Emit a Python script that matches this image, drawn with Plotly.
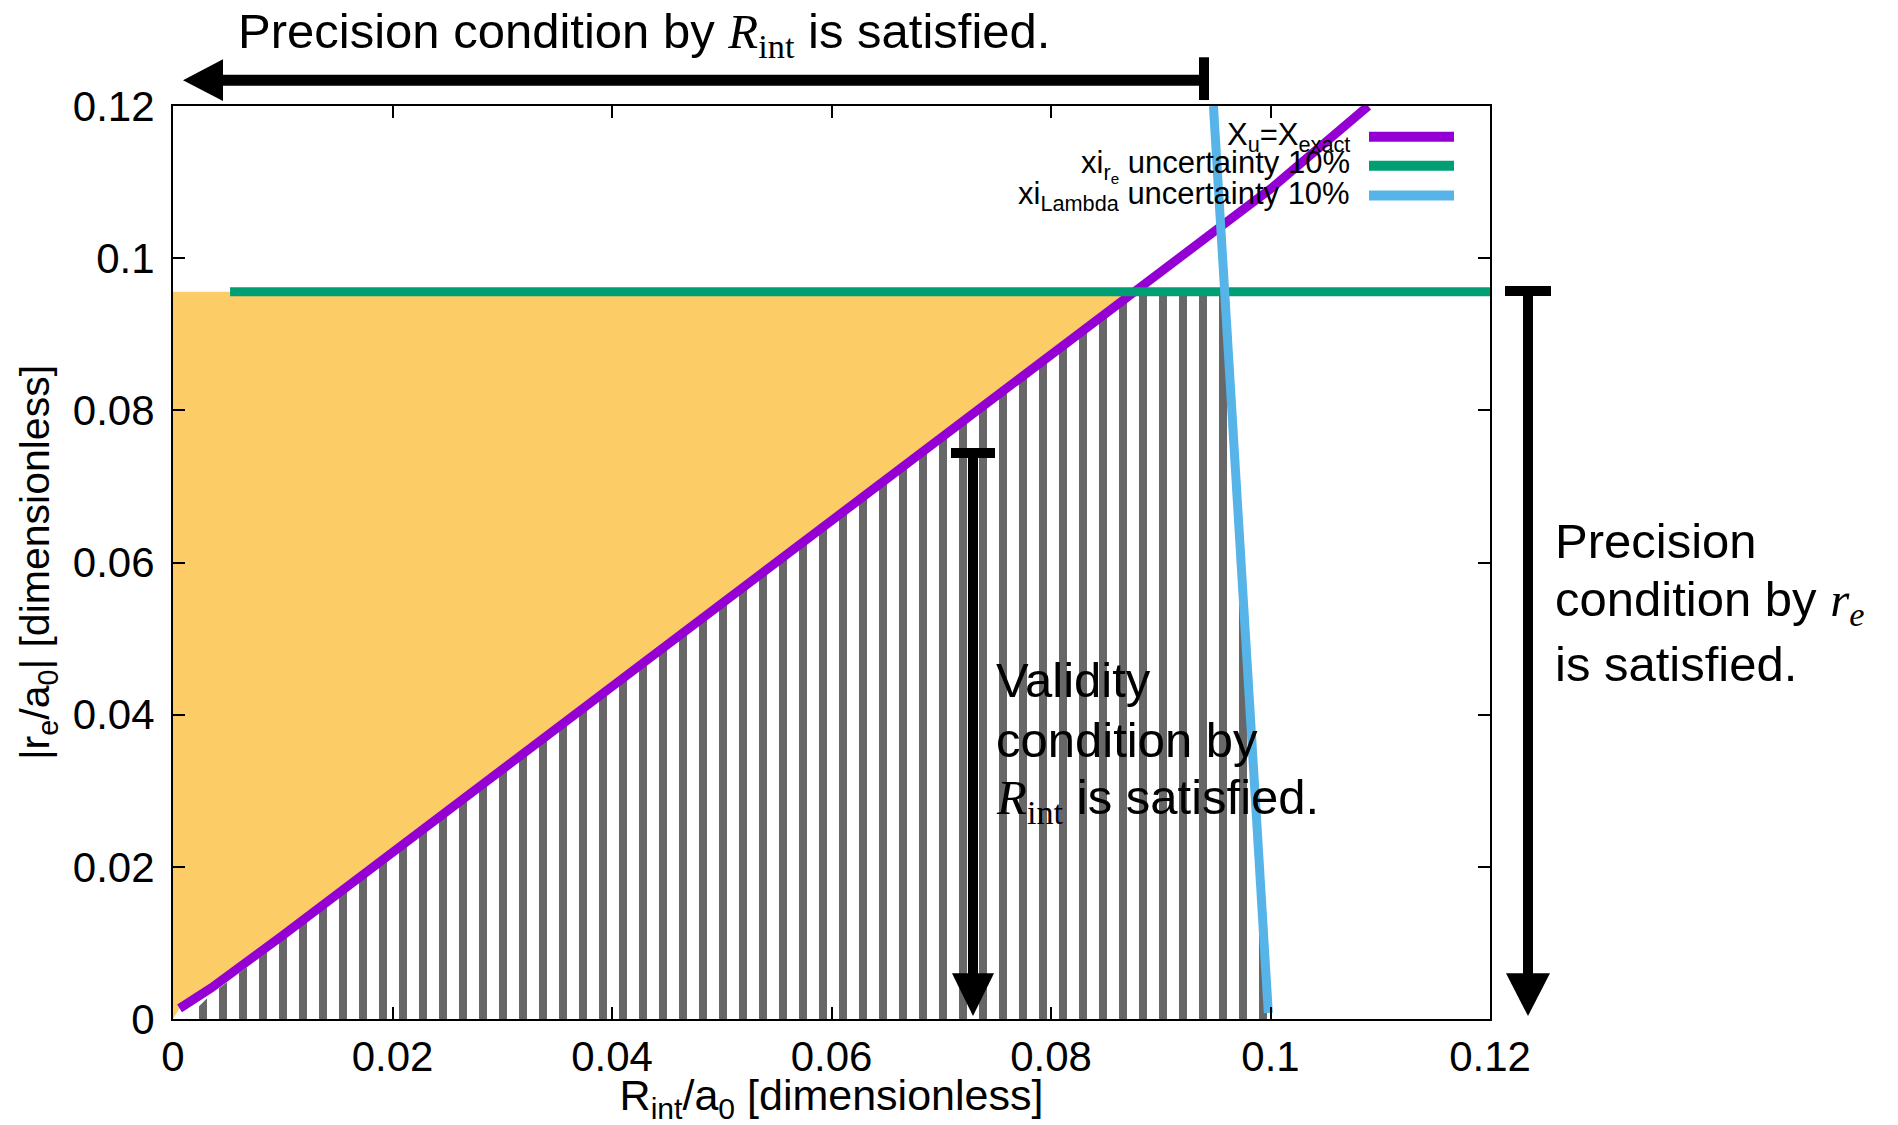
import plotly.graph_objects as go

# ---------------- data ----------------
x_range = [0, 0.12]
y_range = [0, 0.12]
tick_vals = [0, 0.02, 0.04, 0.06, 0.08, 0.1, 0.12]
tick_text = ["0", "0.02", "0.04", "0.06", "0.08", "0.1", "0.12"]

# X_u = X_exact curve
exact_x = [0.0006, 0.0035, 0.01, 0.02, 0.03, 0.04, 0.05, 0.06, 0.07, 0.08, 0.0876, 0.09, 0.1, 0.1089]
exact_y = [0.0014, 0.0041, 0.0110, 0.0219, 0.0328, 0.0437, 0.0546, 0.0655, 0.0764, 0.0873, 0.0956, 0.0982, 0.1091, 0.1200]

# xi_re uncertainty 10 %
re_x = [0.0052, 0.12]
re_y = [0.0956, 0.0956]

# xi_Lambda uncertainty 10 %
lam_x = [0.0948, 0.0998]
lam_y = [0.12, 0.0008]

# orange region (precision by R_int satisfied, validity not)
orange_x = [0, 0, 0.0876, 0.08, 0.06, 0.04, 0.02, 0.01, 0.0035, 0.0006, 0]
orange_y = [0, 0.0956, 0.0956, 0.0873, 0.0655, 0.0437, 0.0219, 0.0110, 0.0041, 0.0014, 0]

# hatched region (all conditions satisfied)
hatch_x = [0.0012, 0.0035, 0.01, 0.02, 0.04, 0.06, 0.08, 0.0876, 0.0958, 0.0998, 0.0012]
hatch_y = [0, 0.0033, 0.0104, 0.0213, 0.0431, 0.0649, 0.0867, 0.0956, 0.0956, 0, 0]

legend_names = ["X<sub>u</sub>=X<sub>exact</sub>",
                "xi<sub>r<sub>e</sub></sub> uncertainty 10%",
                "xi<sub>Lambda</sub> uncertainty 10%"]

PURPLE = "#9400D3"
GREEN = "#009E73"
BLUE = "#56B4E9"
ORANGE = "#FCCC66"
GRAY = "#676767"
SANS = "Liberation Sans, Arial, Helvetica, sans-serif"
SERIF = "Liberation Serif"

# ---------------- layout geometry (pixels) ----------------
W, H = 1898, 1125
L, R, T, B = 173, 1490, 106, 1024


def px(xp):
    return (xp - L) / (R - L)


def py(yp):
    return (B - yp) / (B - T)


fig = go.Figure()

fig.add_trace(go.Scatter(x=orange_x, y=orange_y, mode="none", fill="toself",
                         fillcolor=ORANGE, showlegend=False, hoverinfo="skip"))
fig.add_trace(go.Scatter(x=hatch_x, y=hatch_y, mode="none", fill="toself",
                         fillcolor="white",
                         fillpattern=dict(shape="|", size=20, solidity=0.4,
                                          fgcolor=GRAY, bgcolor="white", fgopacity=1,
                                          fillmode="replace"),
                         showlegend=False, hoverinfo="skip"))
fig.add_trace(go.Scatter(x=exact_x, y=exact_y, mode="lines",
                         line=dict(color=PURPLE, width=9), showlegend=False))
fig.add_trace(go.Scatter(x=re_x, y=re_y, mode="lines",
                         line=dict(color=GREEN, width=9), showlegend=False))
fig.add_trace(go.Scatter(x=lam_x, y=lam_y, mode="lines",
                         line=dict(color=BLUE, width=9), showlegend=False))

shapes = []
annotations = []

# manual legend (text right, sample line left of it)
leg_rows = [137, 166, 196]
for name, col, yr in zip(legend_names, [PURPLE, GREEN, BLUE], leg_rows):
    annotations.append(dict(x=px(1352), y=py(yr), xref="paper", yref="paper",
                            text=name, showarrow=False, xanchor="right", yanchor="middle",
                            font=dict(family=SANS, size=31, color="black")))
    shapes.append(dict(type="line", xref="paper", yref="paper",
                       x0=px(1369), x1=px(1454), y0=py(yr), y1=py(yr),
                       line=dict(color=col, width=10)))

# top arrow
shapes.append(dict(type="line", xref="paper", yref="paper",
                   x0=px(1204), x1=px(218), y0=py(80), y1=py(80),
                   line=dict(color="black", width=11)))
shapes.append(dict(type="line", xref="paper", yref="paper",
                   x0=px(1204), x1=px(1204), y0=py(57), y1=py(100),
                   line=dict(color="black", width=10)))
shapes.append(dict(type="path", xref="paper", yref="paper",
                   path=f"M {px(183)} {py(80)} L {px(223)} {py(59)} L {px(223)} {py(101)} Z",
                   fillcolor="black", line=dict(width=0)))

# right vertical arrow
xr = 1528
shapes.append(dict(type="line", xref="paper", yref="paper",
                   x0=px(xr), x1=px(xr), y0=py(292), y1=py(985),
                   line=dict(color="black", width=10)))
shapes.append(dict(type="line", xref="paper", yref="paper",
                   x0=px(xr - 23), x1=px(xr + 23), y0=py(292), y1=py(292),
                   line=dict(color="black", width=10)))
shapes.append(dict(type="path", xref="paper", yref="paper",
                   path=f"M {px(xr)} {py(1021)} L {px(xr - 22)} {py(978)} L {px(xr + 22)} {py(978)} Z",
                   fillcolor="black", line=dict(width=0)))

# middle vertical arrow
xm = 973
shapes.append(dict(type="line", xref="paper", yref="paper",
                   x0=px(xm), x1=px(xm), y0=py(455), y1=py(985),
                   line=dict(color="black", width=10)))
shapes.append(dict(type="line", xref="paper", yref="paper",
                   x0=px(xm - 22), x1=px(xm + 22), y0=py(455), y1=py(455),
                   line=dict(color="black", width=10)))
shapes.append(dict(type="path", xref="paper", yref="paper",
                   path=f"M {px(xm)} {py(1021)} L {px(xm - 21)} {py(978)} L {px(xm + 21)} {py(978)} Z",
                   fillcolor="black", line=dict(width=0)))

R_INT = (f"<span style='font-family:{SERIF}'><i>R</i><sub>int</sub></span>")
R_E = (f"<span style='font-family:{SERIF}'><i>r<sub>e</sub></i></span>")

# top text
annotations.append(dict(x=px(236), y=py(34), xref="paper", yref="paper",
                        text=f"Precision condition by {R_INT} is satisfied.",
                        showarrow=False, xanchor="left", yanchor="middle",
                        font=dict(family=SANS, size=49, color="black")))

# middle text
for txt, yb in [("Validity", 683), ("condition by", 743), (f"{R_INT} is satisfied.", 804)]:
    annotations.append(dict(x=px(994), y=py(yb), xref="paper", yref="paper",
                            text=txt, showarrow=False, xanchor="left", yanchor="middle",
                            font=dict(family=SANS, size=49, color="black")))

# right text
for txt, yb in [("Precision", 543), (f"condition by {R_E}", 605), ("is satisfied.", 667)]:
    annotations.append(dict(x=px(1553), y=py(yb), xref="paper", yref="paper",
                            text=txt, showarrow=False, xanchor="left", yanchor="middle",
                            font=dict(family=SANS, size=49, color="black")))

axis_common = dict(showgrid=False, zeroline=False, showline=True, linecolor="black",
                   linewidth=2, mirror="ticks", ticks="inside", ticklen=12,
                   tickwidth=1.5, tickcolor="black", tickvals=tick_vals, ticktext=tick_text,
                   tickfont=dict(family=SANS, size=42, color="black"))

fig.update_layout(
    width=W, height=H,
    margin=dict(l=L, r=W - R, t=T, b=H - B, pad=0),
    paper_bgcolor="white", plot_bgcolor="white",
    showlegend=False,
    xaxis=dict(range=x_range, **axis_common, ticklabelstandoff=0,
               title=dict(text="R<sub>int</sub>/a<sub>0</sub> [dimensionless]",
                          font=dict(family=SANS, size=43, color="black"), standoff=2)),
    yaxis=dict(range=y_range, **axis_common, ticklabelstandoff=8,
               title=dict(text="|r<sub>e</sub>/a<sub>0</sub>| [dimensionless]",
                          font=dict(family=SANS, size=41, color="black"), standoff=10)),
    shapes=shapes,
    annotations=annotations,
)

fig.write_html("out.html", post_script="document.body.style.margin='0px';",
               config={"displayModeBar": False})
